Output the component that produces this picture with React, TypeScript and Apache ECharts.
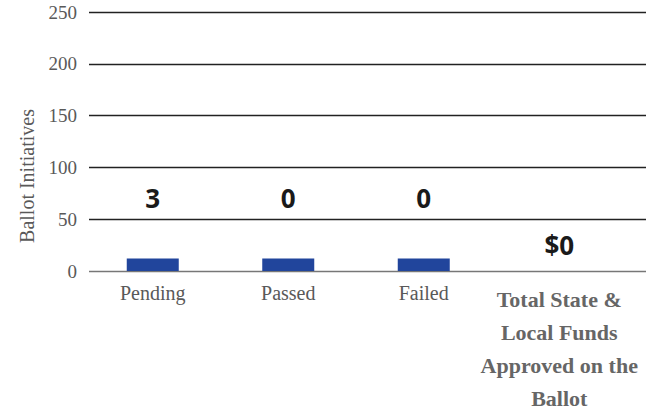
import React, { useEffect, useRef } from "react";
import * as echarts from "echarts";

const categories = [
  "Pending",
  "Passed",
  "Failed",
  "Total State &\nLocal Funds\nApproved on the\nBallot",
];
const barValues = [12, 12, 12, 0];
const valueLabels = ["3", "0", "0", "$0"];
const yTicks = [0, 50, 100, 150, 200, 250];
const yTitle = "Ballot Initiatives";

const SERIF = "'Liberation Serif', 'DejaVu Serif', serif";
const SANS = "'Open Sans', 'Lato', sans-serif";

export default function App() {
  const ref = useRef<HTMLDivElement>(null);
  useEffect(() => {
    document.body.style.margin = "0";
    if (!ref.current) return;
    const chart = echarts.init(ref.current, undefined, { renderer: "svg" });
    const lastCat = categories[categories.length - 1];
    const data = barValues.map((v, i) => {
      const isTotal = i === categories.length - 1;
      return {
        value: v,
        itemStyle: { color: isTotal ? "transparent" : "#21459c" },
        label: {
          show: true,
          position: "top",
          distance: isTotal ? 13 : 48,
          formatter: valueLabels[i],
          fontFamily: SANS,
          fontWeight: "bold",
          fontSize: 26,
          color: "#1a1a1a",
        },
      };
    });
    chart.setOption({
      animation: false,
      grid: [
        { left: 89, right: 20, top: 12, bottom: 141 },
        { left: 85, right: 39, top: 12, bottom: 141 },
      ],
      xAxis: [
        { type: "category", gridIndex: 0, data: [""], show: false },
        {
          type: "category",
          gridIndex: 1,
          data: categories,
          axisLine: { show: false },
          axisTick: { show: false },
          axisLabel: {
            interval: 0,
            margin: 12,
            formatter: (v: string) => (v === lastCat ? `{b|${v}}` : `{n|${v}}`),
            rich: {
              n: { fontFamily: SERIF, fontSize: 20, color: "#595959" },
              b: {
                fontFamily: SERIF,
                fontSize: 22,
                fontWeight: "bold",
                color: "#666666",
                lineHeight: 33,
                align: "center",
              },
            },
          },
        },
      ],
      yAxis: [
        {
          type: "value",
          gridIndex: 0,
          min: yTicks[0],
          max: yTicks[yTicks.length - 1],
          interval: 50,
          axisLine: { show: false },
          axisTick: { show: false },
          axisLabel: {
            margin: 12,
            fontFamily: SERIF,
            fontSize: 19,
            color: "#595959",
          },
          splitLine: {
            lineStyle: {
              color: ["#777777", "#222222", "#222222", "#222222", "#222222", "#222222"],
              width: 1.3,
            },
          },
        },
        {
          type: "value",
          gridIndex: 1,
          min: yTicks[0],
          max: yTicks[yTicks.length - 1],
          show: false,
        },
      ],
      series: [
        {
          type: "bar",
          xAxisIndex: 1,
          yAxisIndex: 1,
          barWidth: 52,
          data,
        },
      ],
      graphic: [
        {
          type: "text",
          x: 27,
          y: 176,
          rotation: Math.PI / 2,
          style: {
            text: yTitle,
            fontFamily: SERIF,
            fontSize: 20,
            fill: "#595959",
            textAlign: "center",
            textVerticalAlign: "middle",
          },
        },
      ],
    });
    return () => chart.dispose();
  }, []);
  return <div ref={ref} style={{ width: 666, height: 412 }} />;
}
